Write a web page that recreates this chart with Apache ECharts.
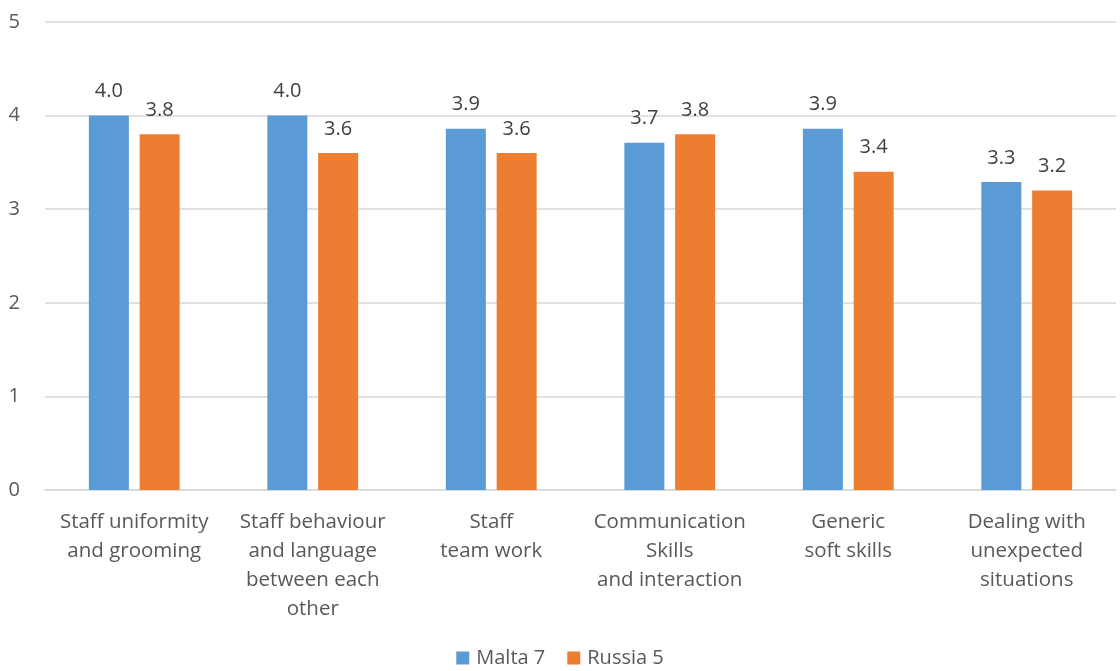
<!DOCTYPE html>
<html>
<head>
<meta charset="utf-8">
<script src="https://cdn.jsdelivr.net/npm/echarts@6/dist/echarts.min.js"></script>
<style>
html,body{margin:0;padding:0;background:#fff;}
#chart{width:1120px;height:671px;}
</style>
</head>
<body>
<div id="chart"></div>
<script>
const categories = [
  "Staff uniformity\nand grooming",
  "Staff behaviour\nand language\nbetween each\nother",
  "Staff\nteam work",
  "Communication\nSkills\nand interaction",
  "Generic\nsoft skills",
  "Dealing with\nunexpected\nsituations"
];
const malta = [4.0, 4.0, 3.86, 3.71, 3.86, 3.29];
const russia = [3.8, 3.6, 3.6, 3.8, 3.4, 3.2];
const seriesNames = ["Malta 7", "Russia 5"];
const yTicks = [0, 1, 2, 3, 4, 5];

const FONT = "'Open Sans', 'Liberation Sans', sans-serif";
const chart = echarts.init(document.getElementById('chart'));
const labelCfg = {
  show: true, position: 'top', distance: 14,
  color: '#404040', fontSize: 20, fontFamily: FONT,
  formatter: p => p.value.toFixed(1)
};
chart.setOption({
  animation: false,
  textStyle: { fontFamily: FONT },
  legend: {
    data: seriesNames, bottom: -2, left: 'center',
    itemWidth: 13, itemHeight: 13, itemGap: 22,
    icon: 'rect',
    textStyle: { color: '#595959', fontSize: 20, fontFamily: FONT, padding: [0,0,0,2] }
  },
  grid: { left: 45, right: 4, top: 22, bottom: 181, containLabel: false },
  xAxis: {
    type: 'category', data: categories,
    axisLine: { lineStyle: { color: '#d9d9d9', width: 1.5 } },
    axisTick: { show: false },
    axisLabel: { color: '#595959', fontSize: 20.5, fontFamily: FONT, lineHeight: 29, margin: 18, interval: 0 }
  },
  yAxis: {
    type: 'value', min: 0, max: 5, interval: 1,
    axisLine: { show: false }, axisTick: { show: false },
    splitLine: { lineStyle: { color: '#d9d9d9', width: 1.5 } },
    axisLabel: { color: '#595959', fontSize: 20, fontFamily: FONT, margin: 25,
      formatter: v => yTicks.includes(v) ? String(v) : '' }
  },
  series: [
    { name: seriesNames[0], type: 'bar', data: malta, barWidth: 40, barGap: '27%',
      itemStyle: { color: '#5B9BD5' }, label: labelCfg },
    { name: seriesNames[1], type: 'bar', data: russia, barWidth: 40,
      itemStyle: { color: '#ED7D31' }, label: labelCfg }
  ]
});
</script>
</body>
</html>
